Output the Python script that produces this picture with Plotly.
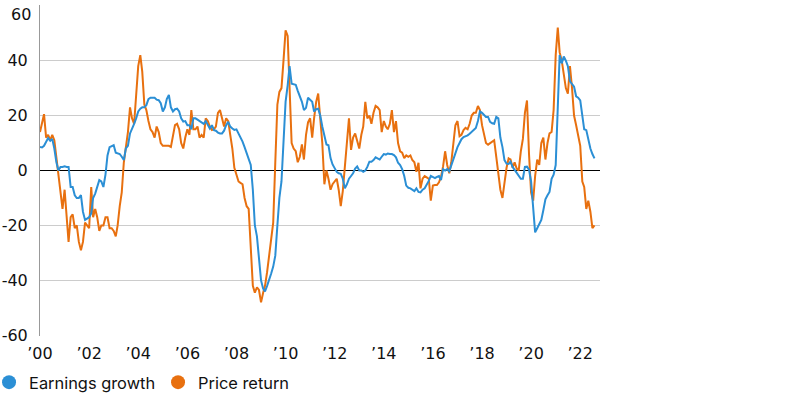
import pandas as pd
import plotly.graph_objects as go

# Monthly values, Jan 2000 .. Aug 2022 (percent, year over year)
earnings_growth = [
    # 2000
    8.6, 8.4, 9, 10.5, 11.8, 10.8, 11.5, 8, 3, 0, 1.3, 1.3,
    # 2001
    1.5, 1.3, 1.3, -6, -6, -9, -10, -10, -9, -15, -18, -17.5,
    # 2002
    -17, -15.6, -10, -8.4, -6, -3.5, -4, -6, -1.5, 5.5, 8.5, 8.8,
    # 2003
    9.2, 6.5, 6.2, 6, 5, 3.8, 8, 9, 13.5, 15, 17, 19,
    # 2004
    21.5, 22.5, 23, 23, 23.8, 26, 26.5, 26.5, 26.5, 25.8, 25.6, 24.5,
    # 2005
    21.5, 23, 26, 27.5, 23, 21.5, 22.3, 22.5, 21.5, 19, 17.8, 18,
    # 2006
    16.5, 16.5, 15, 19, 19, 18.5, 18, 17.7, 17, 18, 16.8, 15.3,
    # 2007
    16.5, 14.7, 14.5, 13.8, 13.5, 13.5, 14.5, 16.5, 17.7, 16, 15.3, 14.8,
    # 2008
    15, 13.5, 12, 10.5, 8.5, 6.2, 4, 2, -7, -20, -24, -32,
    # 2009
    -40, -43, -44, -42, -40, -37.5, -35, -31, -20, -10, -4, 12,
    # 2010
    25, 31, 38, 31.6, 31.5, 31.2, 29, 27, 25, 22, 22.8, 26.5,
    # 2011
    25.6, 25, 21.5, 22.3, 22.5, 20, 16, 12.5, 9.5, 9.2, 4.5, 2.2,
    # 2012
    0.8, -0.5, -1, -1.2, -3, -6.5, -5, -3, -2, -1, 0.7, 1.5,
    # 2013
    0, 0, -0.5, 0, 1.3, 3.2, 3.2, 3.8, 4.8, 4.5, 4, 5,
    # 2014
    6, 5.8, 6.2, 6, 6, 5.6, 4.8, 2.8, 2, 0.5, -2, -5.5,
    # 2015
    -6.3, -6.5, -6.9, -7.5, -6.5, -7.8, -8, -7, -6.5, -5.3, -3.8, -2,
    # 2016
    -2.3, -2.8, -2.3, -2, -3.5, 0.5, 0, 0.5, -0.3, 2, 4.4, 6.2,
    # 2017
    8.5, 10, 11.4, 12.2, 12.5, 12.8, 13.4, 14, 14.7, 15.5, 18, 21.5,
    # 2018
    21, 20, 19.5, 19.5, 17.7, 17.2, 17, 19.5, 19, 12, 8.5, 3.8,
    # 2019
    2.5, 2.4, 3.2, 1.3, 0.2, -1, -1.8, -3, -3, 1.3, 1.4, 0.3,
    # 2020
    -4, -15, -22.5, -21, -19.5, -18, -14.5, -10.5, -9, -7.8, -3, -1.5,
    # 2021
    2, 24, 42, 39, 41.5, 40, 38, 32.5, 31.6, 30.5, 27, 26.5,
    # 2022
    25.5, 19.5, 15, 14.7, 11, 8, 6, 4.4,
]

price_return = [
    # 2000
    14, 17, 20.5, 12, 13, 11, 13, 11, 5, -3, -9, -14,
    # 2001
    -7, -17, -26, -17, -16, -21, -20, -26, -29, -26, -19, -20,
    # 2002
    -21, -6, -17, -14, -17, -22, -20, -20, -17, -17, -21, -21,
    # 2003
    -22, -24, -20, -13, -8, 3, 8, 14, 23, 19, 17, 28,
    # 2004
    38, 42, 36, 24, 22, 18, 15, 14, 12, 16, 14, 10,
    # 2005
    9, 9, 9, 9, 8.6, 12, 16.5, 17, 15, 10, 8, 12,
    # 2006
    15, 13, 22, 15, 15, 16, 12, 13, 12, 19, 18, 16,
    # 2007
    14.7, 15, 16, 21, 22, 19, 16, 19, 18, 13, 8, 1,
    # 2008
    -2, -4, -4.5, -5, -10, -13, -14, -26, -42, -44.5, -42.5, -43.5,
    # 2009
    -48, -44.5, -42, -37, -31, -24, -19, 3, 24, 28.6, 30, 40,
    # 2010
    51, 49, 33, 10, 8, 7, 3, 5, 9.5, 4, 13, 17.5,
    # 2011
    19, 12, 19, 25, 28, 20, 10, -5, 0, -3, -7, -5,
    # 2012
    -4, -3, -7, -13, -7.5, 0.5, 8.6, 19, 7.5, 12, 13.5, 11,
    # 2013
    8, 13, 16, 25, 19, 20, 17, 21, 23.5, 23, 22, 14,
    # 2014
    18, 16, 15, 17, 22, 14, 18, 10, 7, 6.5, 4.5, 5.5,
    # 2015
    5, 5.5, 3.8, 3, -0.5, 2.8, -6.5, -3, -2, -2.5, -3, -11,
    # 2016
    -5.5, -5.3, -5.3, -4.3, -2.3, 1.5, 7, 2, -1, 3, 11, 16.5,
    # 2017
    18, 12.5, 13, 14.7, 15.5, 15, 17, 20, 21, 21, 23.5, 22,
    # 2018
    16.5, 12.5, 10, 9.4, 10, 10.5, 11, 5, -1.5, -7, -10, -4,
    # 2019
    1, 4.4, 4, 1, 3, 0.7, 0, 7, 11.5, 21, 25.5, 6,
    # 2020
    -8, -11, -2, 4, 2, 10, 12, 4, 10, 13.5, 14, 22,
    # 2021
    42, 52, 43, 40, 35, 30, 28, 38, 30, 20, 16.5, 12,
    # 2022
    9, -4, -6, -14, -11, -15, -21, -20,
]

series_names = ["Earnings growth", "Price return"]
tick_years = list(range(2000, 2023, 2))
tick_labels = ["’00", "’02", "’04", "’06", "’08", "’10", "’12",
               "’14", "’16", "’18", "’20", "’22"]
y_ticks = [-60, -40, -20, 0, 20, 40, 60]
y_tick_labels = ["-60", "-40", "-20", "0", "20", "40", "60"]

BLUE = "#2b8fd5"
ORANGE = "#e8700f"
FONT = "Inter"
TICK_FONT = dict(family="DejaVu Sans", size=16, color="#111111")

dates = pd.date_range("2000-01-01", periods=len(earnings_growth), freq="MS")

fig = go.Figure()
fig.add_trace(go.Scatter(x=dates, y=price_return, mode="lines",
                         line=dict(color=ORANGE, width=2),
                         showlegend=False, hoverinfo="skip"))
fig.add_trace(go.Scatter(x=dates, y=earnings_growth, mode="lines",
                         line=dict(color=BLUE, width=2),
                         showlegend=False, hoverinfo="skip"))
# legend entries (circle markers)
for name, col in zip(series_names, [BLUE, ORANGE]):
    fig.add_trace(go.Scatter(x=[None], y=[None], mode="markers", name=name,
                             marker=dict(color=col, size=14)))

# top tick label is nudged down inside the figure (as in the reference)
shown_y_labels = y_tick_labels[:-1] + [""]
fig.add_annotation(xref="paper", yref="y", x=0, y=y_ticks[-1],
                   text=y_tick_labels[-1], showarrow=False,
                   xanchor="right", yanchor="top", xshift=-7, yshift=3,
                   font=TICK_FONT)

fig.update_layout(
    width=800, height=395,
    margin=dict(l=40, r=200, t=5, b=59, autoexpand=False),
    paper_bgcolor="white", plot_bgcolor="white",
    font=dict(family=FONT, size=17, color="#111111"),
    showlegend=True,
    legend=dict(orientation="h", xref="paper", yref="container",
                x=-0.091, xanchor="left", y=0.076, yanchor="top",
                font=dict(size=16.4, color="#111111"),
                itemwidth=30, entrywidth=124, entrywidthmode="pixels",
                bgcolor="rgba(0,0,0,0)"),
)
fig.update_xaxes(
    range=["2000-01-01", "2022-10-22"],
    tickvals=[pd.Timestamp(f"{y}-01-01") for y in tick_years],
    ticktext=tick_labels, tickfont=TICK_FONT,
    showgrid=False, showline=False, zeroline=False, ticks="",
    ticklabelstandoff=6, automargin=False, ticklabeloverflow="allow",
)
fig.update_yaxes(
    range=[-60.25, 60.25], tickvals=y_ticks, ticktext=shown_y_labels,
    tickfont=TICK_FONT,
    showgrid=True, gridcolor="#cccccc", gridwidth=1,
    zeroline=True, zerolinecolor="#000000", zerolinewidth=1,
    showline=True, linecolor="#999999", linewidth=1,
    ticks="", ticklabelstandoff=8, automargin=False, ticklabeloverflow="allow",
)

fig.write_html("out.html",
               config={"displayModeBar": False},
               post_script="document.body.style.margin='0';")
